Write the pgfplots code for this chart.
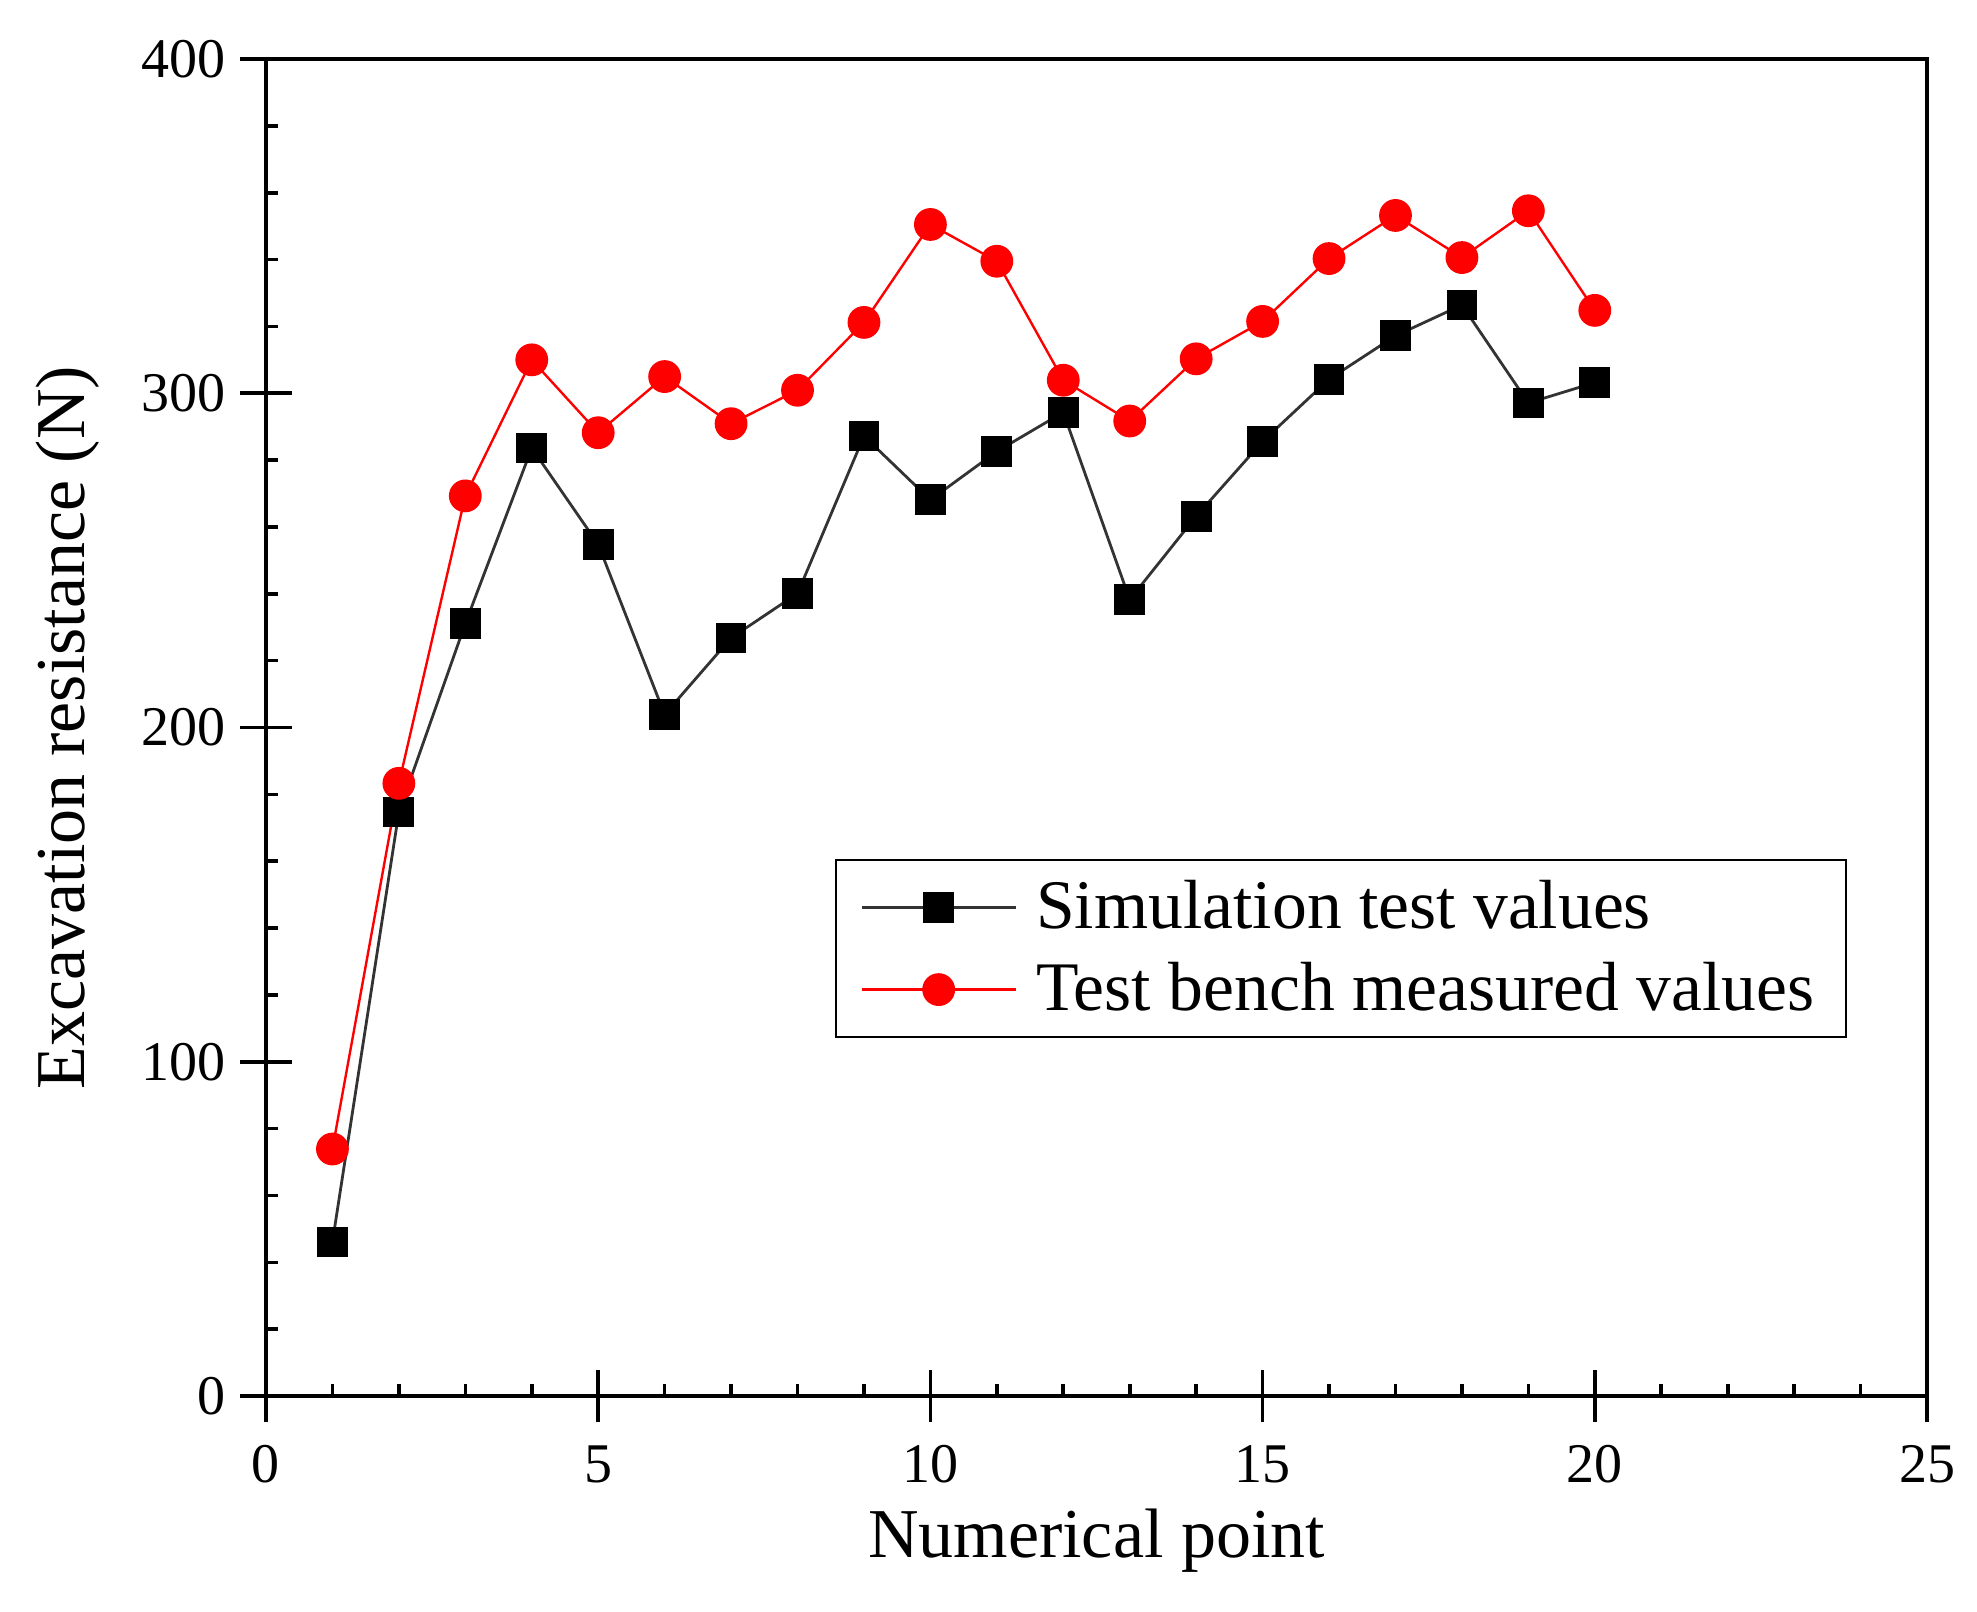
\documentclass[border=0pt]{standalone}
\usepackage{fontspec}
\setmainfont{Liberation Serif}
\usepackage{pgfplots}
\pgfplotsset{compat=1.18}

\definecolor{simline}{HTML}{333333}

\begin{document}
\begin{tikzpicture}
\useasboundingbox (-66.5pt,-53.75pt) rectangle (427.75pt,349pt);
\begin{axis}[
  at={(0,0)}, anchor=south west,
  scale only axis,
  width=415.25pt, height=334.25pt,
  xmin=0, xmax=25, ymin=0, ymax=400,
  xtick={0,5,...,25}, ytick={0,100,...,400},
  minor x tick num=4, minor y tick num=4,
  xtick pos=bottom, ytick pos=left,
  tick align=center,
  major tick length=13pt, minor tick length=3pt,
  every minor x tick/.append style={yshift=1.5pt},
  every minor y tick/.append style={xshift=1.5pt},
  every tick/.style={black, line width=0.9pt},
  axis line style={line width=1pt},
  /pgf/number format/assume math mode=true,
  ticklabel style={font=\fontsize{14}{16}\selectfont},
  xticklabel style={yshift=-2.3pt},
  label style={font=\fontsize{17.5}{20}\selectfont},
  xlabel={Numerical point},
  ylabel={Excavation resistance (N)},
  xlabel style={at={(axis description cs:0.5,-0.1204)}, anchor=base},
  ylabel style={at={(axis description cs:-0.109,0.5)}, anchor=base, rotate=0},
  legend style={at={(axis description cs:0.3426,0.4017)}, anchor=north west,
    draw=black, line width=0.6pt, inner xsep=6pt, inner ysep=3pt,
    row sep=3pt, column sep=2.8pt, font=\fontsize{17.4}{20}\selectfont,
    nodes={inner sep=2pt, text depth=0.15em}},
  legend cell align={left},
  legend image code/.code={\draw[mark repeat=2,mark phase=2,#1] plot coordinates {(0pt,0pt) (19.25pt,0pt) (38.5pt,0pt)};},
]

\addplot[simline, line width=0.7pt, mark=square*, mark size=3.5pt,
  mark options={fill=black, draw=black, solid}] coordinates {
  (1,46.1) (2,174.7) (3,231.1) (4,283.6) (5,254.8)
  (6,203.9) (7,226.8) (8,240.1) (9,287.2) (10,268.1)
  (11,282.6) (12,294.3) (13,238.3) (14,263.2) (15,285.6)
  (16,304.2) (17,317.2) (18,326.4) (19,297.1) (20,303.2)
};
\addlegendentry{Simulation test values}

\addplot[red, line width=0.6pt, mark=*, mark size=3.8pt,
  mark options={fill=red, draw=red, solid}] coordinates {
  (1,73.9) (2,183.3) (3,269.3) (4,310.0) (5,288.2)
  (6,305.0) (7,290.9) (8,300.9) (9,321.2) (10,350.5)
  (11,339.5) (12,303.9) (13,291.7) (14,310.3) (15,321.5)
  (16,340.3) (17,353.2) (18,340.6) (19,354.6) (20,324.8)
};
\addlegendentry{Test bench measured values}

\end{axis}
\end{tikzpicture}
\end{document}
